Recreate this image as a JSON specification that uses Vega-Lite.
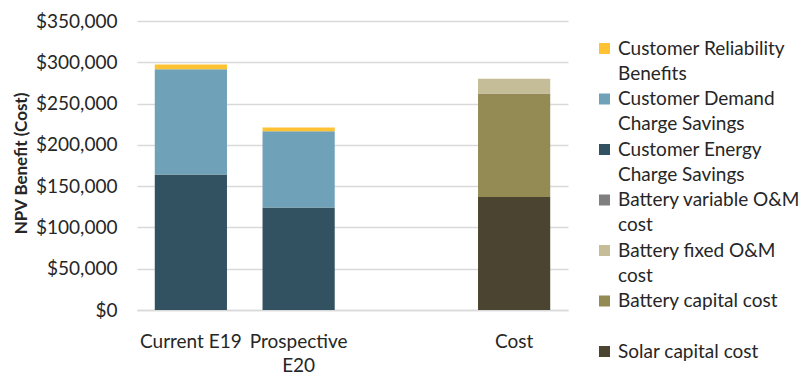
{
  "$schema": "https://vega.github.io/schema/vega-lite/v6.json",
  "width": 431,
  "height": 289,
  "autosize": "none",
  "padding": {"left": 137, "top": 21, "right": 239, "bottom": 63},
  "background": "white",
  "config": {
    "font": "Lato",
    "view": {"stroke": null},
    "axis": {"labelColor": "#262626", "titleColor": "#262626"},
    "style": {"guide-label": {"lineHeight": 25.3}}
  },
  "data": {
    "values": [
      {"group": "Current E19", "series": "Customer Energy Charge Savings", "value": 164200, "ord": 1},
      {"group": "Current E19", "series": "Customer Demand Charge Savings", "value": 127400, "ord": 2},
      {"group": "Current E19", "series": "Customer Reliability Benefits", "value": 5700, "ord": 3},
      {"group": "Prospective E20", "series": "Customer Energy Charge Savings", "value": 124200, "ord": 1},
      {"group": "Prospective E20", "series": "Customer Demand Charge Savings", "value": 92400, "ord": 2},
      {"group": "Prospective E20", "series": "Customer Reliability Benefits", "value": 4400, "ord": 3},
      {"group": "Cost", "series": "Solar capital cost", "value": 136700, "ord": 1},
      {"group": "Cost", "series": "Battery capital cost", "value": 125500, "ord": 2},
      {"group": "Cost", "series": "Battery variable O&M cost", "value": 0, "ord": 3},
      {"group": "Cost", "series": "Battery fixed O&M cost", "value": 17800, "ord": 4}
    ]
  },
  "mark": {"type": "bar"},
  "encoding": {
    "x": {
      "field": "group",
      "type": "nominal",
      "scale": {"domain": ["Current E19", "Prospective E20", "gap", "Cost"], "paddingInner": 0.33, "paddingOuter": 0.165},
      "axis": {
        "title": null,
        "labelAngle": 0,
        "labelExpr": "datum.value == 'gap' ? '' : datum.value == 'Prospective E20' ? ['Prospective', 'E20'] : datum.value",
        "labelFontSize": 19,
        "labelLineHeight": 24.5,
        "labelBaseline": "top",
        "labelPadding": 22,
        "labelOverlap": false,
        "ticks": false,
        "domainColor": "#D9D9D9",
        "domainWidth": 1.3,
        "grid": false
      }
    },
    "y": {
      "field": "value",
      "type": "quantitative",
      "stack": "zero",
      "scale": {"domain": [0, 350000], "nice": false},
      "axis": {
        "title": "NPV Benefit  (Cost)",
        "titleFontSize": 17,
        "titleFontWeight": "bold",
        "titleX": -116,
        "titleY": 142,
        "titleAlign": "center",
        "titleBaseline": "middle",
        "titleAngle": -90,
        "format": "$,.0f",
        "values": [0, 50000, 100000, 150000, 200000, 250000, 300000, 350000],
        "labelFontSize": 19,
        "labelPadding": 20,
        "ticks": false,
        "domain": false,
        "gridColor": "#D9D9D9",
        "gridWidth": 1.3
      }
    },
    "color": {
      "field": "series",
      "type": "nominal",
      "scale": {
        "domain": [
          "Customer Reliability Benefits",
          "Customer Demand Charge Savings",
          "Customer Energy Charge Savings",
          "Battery variable O&M cost",
          "Battery fixed O&M cost",
          "Battery capital cost",
          "Solar capital cost"
        ],
        "range": ["#FFC232", "#6FA1B8", "#325262", "#7F7F7F", "#C4BD97", "#948A54", "#4A4430"]
      },
      "legend": {
        "title": null,
        "orient": "none",
        "legendX": 458,
        "legendY": 18,
        "padding": 0,
        "symbolType": "square",
        "symbolSize": 121,
        "symbolStrokeWidth": 0,
        "symbolOpacity": 1,
        "labelFontSize": 19,
        "labelColor": "#262626",
        "labelLimit": 300,
        "labelOffset": 4,
        "rowPadding": 5.5,
        "gridAlign": "all",
        "labelExpr": "datum.value == 'Customer Reliability Benefits' ? ['Customer Reliability', 'Benefits'] : datum.value == 'Customer Demand Charge Savings' ? ['Customer Demand', 'Charge Savings'] : datum.value == 'Customer Energy Charge Savings' ? ['Customer Energy', 'Charge Savings'] : datum.value == 'Battery variable O&M cost' ? ['Battery variable O&M', 'cost'] : datum.value == 'Battery fixed O&M cost' ? ['Battery fixed O&M', 'cost'] : [datum.value, '']"
      }
    },
    "order": {"field": "ord", "type": "quantitative"}
  }
}
